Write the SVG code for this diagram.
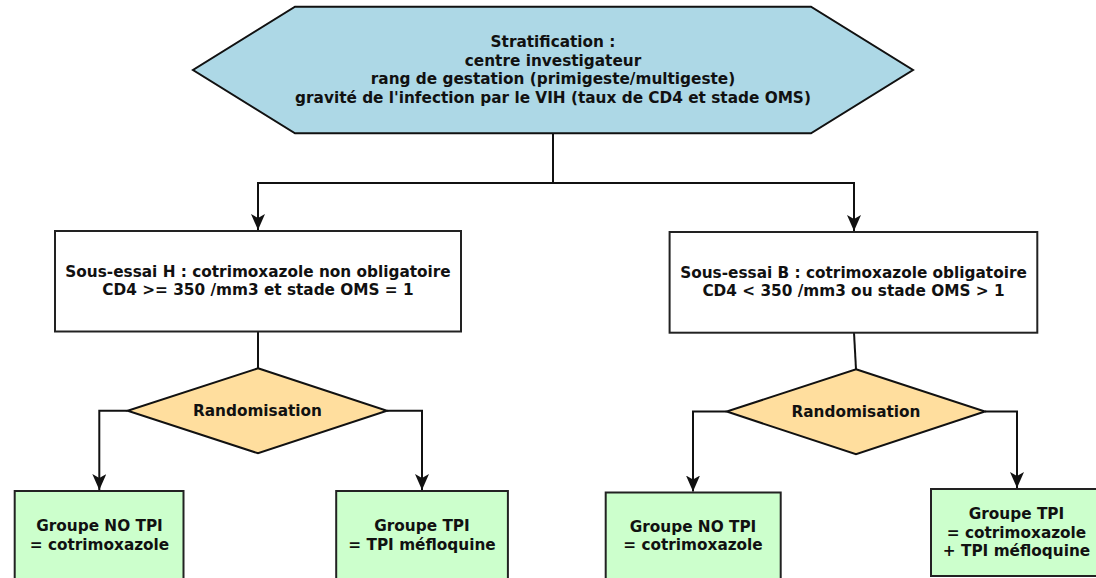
<svg xmlns="http://www.w3.org/2000/svg" width="1096" height="578" viewBox="0 0 1096 578">
  <style>
    .t { font-family: "DejaVu Sans", "Liberation Sans", sans-serif; font-weight: bold; font-size: 15.3px; fill: #111; text-anchor: middle; }
    .hex { fill: #ADD8E6; stroke: #111; stroke-width: 2; stroke-linejoin: miter; }
    .box { fill: #ffffff; stroke: #222; stroke-width: 2; }
    .dia { fill: #FFDE9E; stroke: #111; stroke-width: 2; }
    .grp { fill: #CCFFCC; stroke: #222; stroke-width: 2; }
    .con { fill: none; stroke: #111; stroke-width: 2; }
  </style>
  <defs>
    <marker id="arr" viewBox="0 0 16 14" refX="16" refY="7" markerWidth="16" markerHeight="14" markerUnits="userSpaceOnUse" orient="auto">
      <path d="M0,0 L16,7 L0,14 L4,7 Z" fill="#111"/>
    </marker>
  </defs>

  <g id="connectors">
    <path class="con" d="M553,133 V183 H258 V230" marker-end="url(#arr)"/>
    <path class="con" d="M553,183 H854 V231" marker-end="url(#arr)"/>
    <path class="con" d="M258,331.5 V368.3"/>
    <path class="con" d="M127.6,410.7 H99.3 V490" marker-end="url(#arr)"/>
    <path class="con" d="M387,410.7 H422 V490" marker-end="url(#arr)"/>
    <path class="con" d="M854,332.7 L856,369.3"/>
    <path class="con" d="M726.7,411.5 H693 V491.5" marker-end="url(#arr)"/>
    <path class="con" d="M985,411.5 H1017 V488" marker-end="url(#arr)"/>
  </g>

  <g id="stratification">
    <polygon class="hex" points="295,6.7 811,6.7 913,70 811,133.3 295,133.3 193,70"/>
    <text class="t" x="553" y="47.3">Stratification :</text>
    <text class="t" x="553" y="65.8">centre investigateur</text>
    <text class="t" x="553" y="84.3">rang de gestation (primigeste/multigeste)</text>
    <text class="t" x="553" y="102.8">gravité de l'infection par le VIH (taux de CD4 et stade OMS)</text>
  </g>

  <g id="sous-essai-h">
    <rect class="box" x="55" y="231" width="406" height="100.5"/>
    <text class="t" x="258" y="276.5">Sous-essai H : cotrimoxazole non obligatoire</text>
    <text class="t" x="258" y="295">CD4 &gt;= 350 /mm3 et stade OMS = 1</text>
  </g>

  <g id="sous-essai-b">
    <rect class="box" x="669.6" y="232" width="367.7" height="100.7"/>
    <text class="t" x="853.5" y="277.5">Sous-essai B : cotrimoxazole obligatoire</text>
    <text class="t" x="853.5" y="296">CD4 &lt; 350 /mm3 ou stade OMS &gt; 1</text>
  </g>

  <g id="randomisation-h">
    <polygon class="dia" points="258,368.3 387,410.7 258,453.3 127.6,410.7"/>
    <text class="t" x="257.5" y="415.5">Randomisation</text>
  </g>

  <g id="randomisation-b">
    <polygon class="dia" points="856,369.3 985,411.5 856,454.3 726.7,411.5"/>
    <text class="t" x="856" y="416.5">Randomisation</text>
  </g>

  <g id="groupe-no-tpi-h">
    <rect class="grp" x="14.7" y="491" width="168.8" height="92"/>
    <text class="t" x="99.5" y="531">Groupe NO TPI</text>
    <text class="t" x="99.5" y="549.5">= cotrimoxazole</text>
  </g>

  <g id="groupe-tpi-h">
    <rect class="grp" x="336.2" y="491" width="171.7" height="92"/>
    <text class="t" x="422" y="531">Groupe TPI</text>
    <text class="t" x="422" y="549.5">= TPI méfloquine</text>
  </g>

  <g id="groupe-no-tpi-b">
    <rect class="grp" x="605.7" y="492.5" width="175" height="92"/>
    <text class="t" x="693" y="531.7">Groupe NO TPI</text>
    <text class="t" x="693" y="550">= cotrimoxazole</text>
  </g>

  <g id="groupe-tpi-b">
    <rect class="grp" x="931" y="489" width="171" height="87"/>
    <text class="t" x="1016.5" y="519">Groupe TPI</text>
    <text class="t" x="1016.5" y="537.7">= cotrimoxazole</text>
    <text class="t" x="1016.5" y="556">+ TPI méfloquine</text>
  </g>
</svg>
